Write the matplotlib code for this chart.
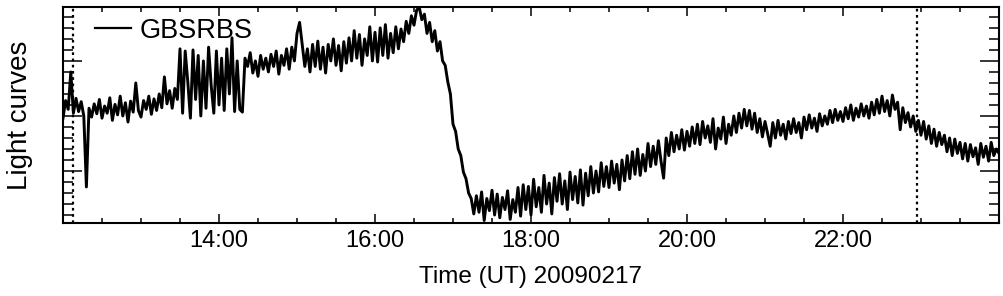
import numpy as np
import matplotlib
matplotlib.use("Agg")
import matplotlib.pyplot as plt
from matplotlib.ticker import FixedLocator, MultipleLocator, FuncFormatter, NullFormatter

plt.rcParams['font.family'] = ['Liberation Sans', 'DejaVu Sans']

# light curve, one value every 2 minutes (arbitrary units), one list per hour
h12 = [196, 228, 212, 280, 205, 232, 208, 226, 200, 71, 214, 198, 222, 204, 230,
       196, 218, 205, 233, 192, 221, 202, 236, 200, 224, 189, 227, 207, 260, 210]
h13 = [198, 228, 212, 236, 203, 231, 210, 240, 215, 271, 222, 246, 214, 250, 230,
       322, 205, 318, 262, 196, 320, 230, 310, 200, 300, 214, 325, 255, 205, 318]
h14 = [220, 305, 210, 322, 240, 342, 208, 300, 212, 207, 305, 290, 315, 278, 300,
       272, 310, 285, 305, 280, 312, 290, 318, 276, 310, 292, 322, 285, 325, 300]
h15 = [350, 370, 330, 290, 322, 280, 330, 290, 336, 285, 325, 278, 330, 300, 340,
       292, 328, 282, 335, 296, 342, 300, 355, 305, 348, 292, 340, 310, 362, 300]
h16 = [352, 298, 360, 310, 366, 305, 350, 315, 362, 322, 358, 335, 372, 350, 382,
       365, 392, 398, 375, 385, 350, 370, 335, 355, 318, 335, 300, 292, 262, 240]
h17 = [185, 172, 140, 128, 98, 86, 60, 50, 22, 55, 25, 62, 10, 50, 28,
       65, 20, 58, 15, 52, 30, 64, 12, 48, 25, 70, 18, 75, 30, 72]
h18 = [20, 85, 35, 70, 25, 92, 40, 78, 22, 88, 45, 95, 40, 82, 30,
       98, 48, 90, 42, 102, 38, 96, 55, 108, 60, 100, 62, 115, 72, 108]
h19 = [70, 118, 78, 112, 66, 120, 82, 128, 86, 135, 94, 140, 92, 130, 100,
       150, 108, 145, 112, 155, 118, 87, 160, 128, 170, 135, 165, 140, 175, 138]
h20 = [172, 145, 180, 150, 185, 148, 190, 160, 182, 152, 195, 140, 178, 158, 198,
       150, 185, 165, 200, 170, 205, 178, 212, 182, 210, 176, 205, 170, 195, 162]
h21 = [190, 168, 145, 188, 160, 192, 165, 185, 158, 190, 168, 195, 170, 188, 160,
       198, 175, 202, 178, 196, 172, 204, 182, 200, 185, 210, 188, 212, 192, 208]
h22 = [190, 215, 195, 220, 192, 214, 198, 222, 200, 218, 196, 225, 202, 230, 205,
       236, 208, 228, 200, 238, 212, 225, 175, 215, 188, 206, 180, 200, 172, 192]
h23 = [165, 190, 158, 182, 150, 176, 145, 170, 148, 165, 135, 160, 128, 158, 132,
       152, 122, 150, 118, 148, 126, 142, 112, 150, 125, 145, 118, 152, 128, 140]
last = [132]

hours = [h12, h13, h14, h15, h16, h17, h18, h19, h20, h21, h22, h23]
flux = np.concatenate(hours + [last]).astype(float)
time = 12 + np.arange(len(flux)) * 2 / 60.0   # 2-minute cadence, hours UT

marks = [12 + 8 / 60.0, 22 + 57 / 60.0]       # dotted markers
xticks = [14, 16, 18, 20, 22]

fig = plt.figure(figsize=(10.04, 2.96), dpi=100)
ax = fig.add_axes([63 / 1004, 1 - 223 / 296, 936 / 1004, 216 / 296])

ax.plot(time, flux, color='black', linewidth=2.1, label='GBSRBS')
for m in marks:
    ax.axvline(m, color='black', linestyle=(0, (1.2, 1.6)), linewidth=1.6)

ax.set_xlim(12, 24)
ax.set_ylim(5.5, 398)

ax.xaxis.set_major_locator(FixedLocator(xticks))
ax.xaxis.set_minor_locator(MultipleLocator(0.5))
ax.xaxis.set_major_formatter(FuncFormatter(lambda v, p: '%02d:00' % int(round(v))))
ax.yaxis.set_major_locator(MultipleLocator(100))
ax.yaxis.set_minor_locator(MultipleLocator(20))
ax.yaxis.set_major_formatter(NullFormatter())

ax.tick_params(axis='both', which='both', direction='in', top=True, right=True,
               width=1.1, colors='black')
ax.tick_params(axis='x', which='major', length=6.5, labelsize=17, pad=5)
ax.tick_params(axis='x', which='minor', length=3.5)
ax.tick_params(axis='y', which='major', length=14)
ax.tick_params(axis='y', which='minor', length=7)
for s in ax.spines.values():
    s.set_linewidth(1.5)

ax.set_xlabel('Time (UT) 20090217', fontsize=17.5, labelpad=10)
ax.set_ylabel('Light curves', fontsize=20, labelpad=18)

leg = ax.legend(loc='upper left', bbox_to_anchor=(0.034, 0.95), frameon=False,
                fontsize=19.5, handlelength=1.35, handletextpad=0.3, borderpad=0,
                borderaxespad=0)
for line in leg.get_lines():
    line.set_linewidth(1.6)

fig.savefig('out.png', dpi=100)
